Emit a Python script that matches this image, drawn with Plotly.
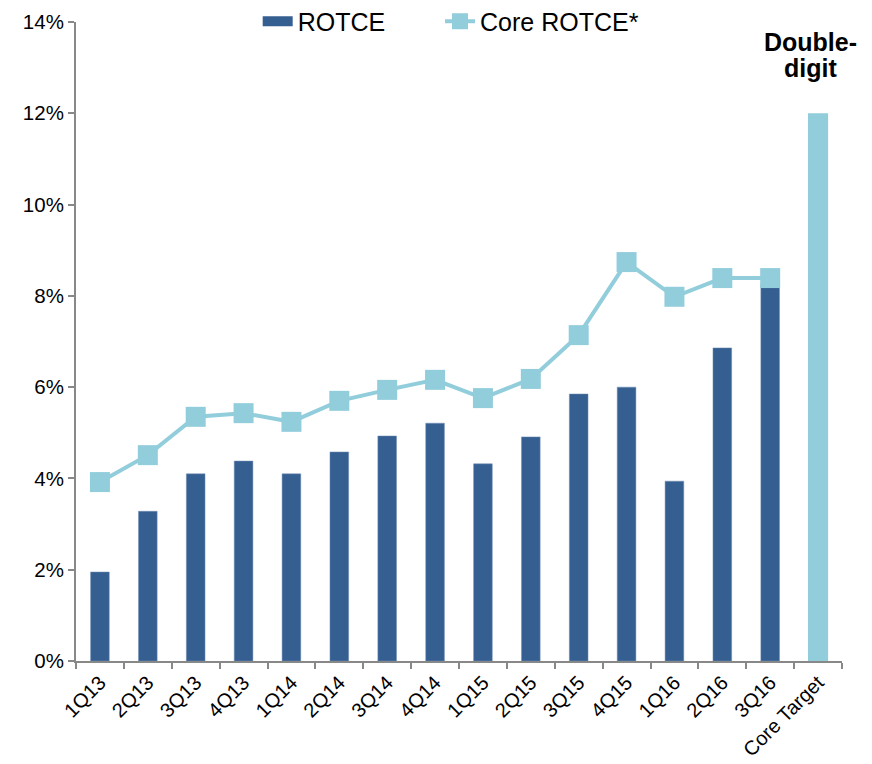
import plotly.graph_objects as go

quarters = ["1Q13", "2Q13", "3Q13", "4Q13", "1Q14", "2Q14", "3Q14", "4Q14",
            "1Q15", "2Q15", "3Q15", "4Q15", "1Q16", "2Q16", "3Q16"]
target_label = "Core Target"
rotce = [1.95, 3.28, 4.10, 4.38, 4.10, 4.58, 4.93, 5.21,
         4.32, 4.91, 5.85, 6.00, 3.94, 6.86, 8.25]
core_rotce = [3.92, 4.51, 5.35, 5.43, 5.24, 5.70, 5.94, 6.16,
              5.76, 6.18, 7.14, 8.74, 7.98, 8.39, 8.39]
target_value = [12.0]
target_note = ["Double-", "digit"]
y_ticks = [0, 2, 4, 6, 8, 10, 12, 14]
y_tick_labels = [f"{v}%" for v in y_ticks]

dark = "#365F91"
light = "#92CDDC"
axis_col = "#888888"
font_family = "Liberation Sans, Arial"

fig = go.Figure()
fig.add_trace(go.Bar(
    x=quarters, y=rotce, name="ROTCE", width=0.39, showlegend=False,
    marker=dict(color=dark, line=dict(color="#6F8FB5", width=0.5)),
))
# legend stand-in for the bar series (wide rectangle swatch)
fig.add_trace(go.Scatter(
    x=[None], y=[None], name="ROTCE", mode="lines",
    line=dict(color=dark, width=12), legend="legend",
))
fig.add_trace(go.Bar(
    x=[target_label], y=target_value, name="Core Target", width=0.42,
    marker=dict(color=light, line=dict(width=0)), showlegend=False,
))
fig.add_trace(go.Scatter(
    x=quarters, y=core_rotce, name="Core ROTCE*", mode="lines+markers",
    line=dict(color=light, width=4),
    marker=dict(symbol="square", size=20, color=light),
    legend="legend2",
))

for line_text, ypos in zip(target_note, [0.9687, 0.928]):
    fig.add_annotation(
        x=target_label, y=ypos, xref="x", yref="paper", yanchor="middle",
        xshift=-8, text=f"<b>{line_text}</b>", showarrow=False,
        font=dict(size=25, color="black", family=font_family),
    )

legend_common = dict(orientation="h", xref="container", yref="container",
                     xanchor="left", y=0.982, yanchor="middle",
                     font=dict(size=25), bgcolor="rgba(0,0,0,0)")

fig.update_layout(
    width=864, height=756,
    margin=dict(l=68, r=30, t=14, b=103, autoexpand=False),
    plot_bgcolor="white", paper_bgcolor="white",
    barmode="overlay",
    font=dict(family=font_family, size=17, color="black"),
    showlegend=True,
    legend=dict(x=0.289, **legend_common),
    legend2=dict(x=0.500, **legend_common),
    xaxis=dict(
        categoryorder="array", categoryarray=quarters + [target_label],
        tickangle=-45, showline=True, linecolor=axis_col, linewidth=2,
        ticks="outside", ticklen=6, tickcolor=axis_col, tickwidth=2,
        showgrid=False, tickson="boundaries", tickfont=dict(size=20),
        range=[-0.5, 15.5], automargin=False,
    ),
    yaxis=dict(
        range=[0, 14], tickvals=y_ticks, ticktext=y_tick_labels,
        showline=True, linecolor=axis_col, linewidth=2,
        ticks="outside", ticklen=6, tickcolor=axis_col, tickwidth=2,
        showgrid=False, zeroline=False, tickfont=dict(size=20.5),
        automargin=False,
    ),
)

fig.write_html("out.html")
